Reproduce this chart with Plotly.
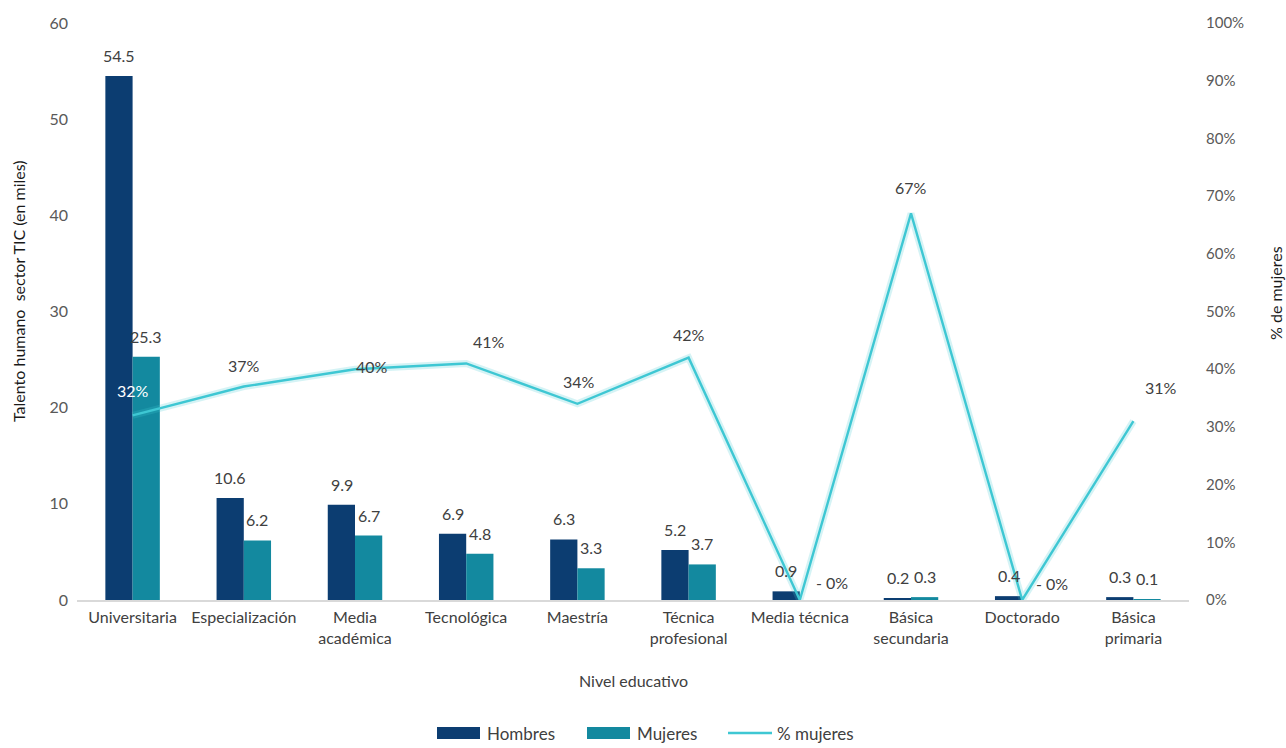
import plotly.graph_objects as go

# Talento humano del sector TIC por nivel educativo (miles de personas)
categorias = [
    "Universitaria", "Especialización", "Media<br>académica", "Tecnológica",
    "Maestría", "Técnica<br>profesional", "Media técnica", "Básica<br>secundaria",
    "Doctorado", "Básica<br>primaria",
]
hombres = [54.5, 10.6, 9.9, 6.9, 6.3, 5.2, 0.9, 0.2, 0.4, 0.3]
mujeres = [25.3, 6.2, 6.7, 4.8, 3.3, 3.7, None, 0.3, None, 0.1]
pct_mujeres = [0.32, 0.37, 0.40, 0.41, 0.34, 0.42, 0.00, 0.67, 0.00, 0.31]

y_ticks = [0, 10, 20, 30, 40, 50, 60]
y2_ticks = [i / 10 for i in range(11)]

# label placement for the percentage series (pixel offsets from each point)
pct_label_shift = [(0, 25), (0, 21), (17, 3), (23, 22), (2, 22),
                   (0, 23), (32, 18), (0, 26), (30, 17), (28, 34)]

FONT = "Lato, 'Open Sans', sans-serif"
C_H = "#0C3D71"
C_M = "#13899F"
C_L = "#3EC7D3"
TXT = "#404040"

# plot-area geometry in pixels (used to place the titles and the legend)
W, H = 1286, 748
L, R, T, B = 77, 97, 23, 148
PW, PH = W - L - R, H - T - B


def px(xp):
    return (xp - L) / PW


def py(yp):
    return (H - B - yp) / PH


fig = go.Figure()
fig.add_trace(go.Bar(name="Hombres", x=categorias, y=hombres, marker_color=C_H,
                     marker_line_width=0, yaxis="y"))
fig.add_trace(go.Bar(name="Mujeres", x=categorias, y=mujeres, marker_color=C_M,
                     marker_line_width=0, yaxis="y"))
# soft halo under the line
fig.add_trace(go.Scatter(x=categorias, y=pct_mujeres, mode="lines", yaxis="y2",
                         line=dict(color="rgba(62,199,211,0.22)", width=7),
                         showlegend=False, hoverinfo="skip"))
fig.add_trace(go.Scatter(name="% mujeres", x=categorias, y=pct_mujeres, mode="lines",
                         yaxis="y2", line=dict(color=C_L, width=2.4)))

annotations = []
for cat, h, m in zip(categorias, hombres, mujeres):
    for val, shift in ((h, -13.5), (m, 13.5)):
        if val is None:
            continue
        annotations.append(dict(x=cat, y=val, xref="x", yref="y", text=f"{val:.1f}",
                                showarrow=False, xshift=shift, yanchor="bottom",
                                yshift=9, font=dict(size=16, color=TXT, family=FONT)))

for i, (cat, p) in enumerate(zip(categorias, pct_mujeres)):
    dx, dy = pct_label_shift[i]
    txt = ("- " if p == 0 else "") + f"{p:.0%}"
    annotations.append(dict(x=cat, y=p, xref="x", yref="y2", text=txt, showarrow=False,
                            xshift=dx, yshift=dy,
                            font=dict(size=16, family=FONT,
                                      color="white" if i == 0 else TXT)))

# axis titles
annotations += [
    dict(text="Talento humano  sector TIC (en miles)", xref="paper", yref="paper",
         x=px(18), y=py(291), xanchor="center", yanchor="middle",
         textangle=-90, showarrow=False,
         font=dict(size=16, color="#1a1a1a", family=FONT)),
    dict(text="% de mujeres", xref="paper", yref="paper",
         x=px(1275), y=py(293), xanchor="center", yanchor="middle",
         textangle=-90, showarrow=False,
         font=dict(size=16, color="#1a1a1a", family=FONT)),
    dict(text="Nivel educativo", xref="paper", yref="paper",
         x=px(633), y=py(680), xanchor="center", yanchor="middle",
         showarrow=False, font=dict(size=16, color=TXT, family=FONT)),
]

# legend drawn below the x-axis title: wide swatches as in the original style
legend_y = 733
shapes = [
    dict(type="rect", xref="paper", yref="paper", x0=px(437), x1=px(480),
         y0=py(legend_y + 6), y1=py(legend_y - 6), fillcolor=C_H, line_width=0),
    dict(type="rect", xref="paper", yref="paper", x0=px(587), x1=px(630),
         y0=py(legend_y + 6), y1=py(legend_y - 6), fillcolor=C_M, line_width=0),
    dict(type="line", xref="paper", yref="paper", x0=px(728), x1=px(772),
         y0=py(legend_y), y1=py(legend_y), line=dict(color=C_L, width=2.4)),
]
for name, xp in (("Hombres", 485), ("Mujeres", 635), ("% mujeres", 775)):
    annotations.append(dict(text=name, xref="paper", yref="paper", x=px(xp),
                            y=py(legend_y), xanchor="left", yanchor="middle",
                            showarrow=False,
                            font=dict(size=17, color=TXT, family=FONT)))

fig.update_layout(
    width=W, height=H,
    margin=dict(l=L, r=R, t=T, b=B, autoexpand=False),
    paper_bgcolor="white", plot_bgcolor="white",
    font=dict(family=FONT, size=16, color="#595959"),
    barmode="group", bargap=0.51, bargroupgap=0,
    showlegend=False,
    xaxis=dict(showgrid=False, showline=True, linecolor="#d9d9d9", linewidth=1.5,
               ticks="", tickfont=dict(size=16, color=TXT), tickangle=0,
               ticklabelstandoff=2),
    yaxis=dict(range=[0, 60], tickvals=y_ticks, showgrid=False, zeroline=False,
               showline=False, ticks="", tickfont=dict(size=16, color="#595959"),
               ticklabelstandoff=8),
    yaxis2=dict(range=[0, 1], tickvals=y2_ticks, tickformat=".0%", overlaying="y",
                side="right", showgrid=False, zeroline=False, showline=False,
                ticks="", tickfont=dict(size=15, color="#595959"),
                ticklabelstandoff=16),
    shapes=shapes,
    annotations=annotations,
)

fig.write_html("out.html")
